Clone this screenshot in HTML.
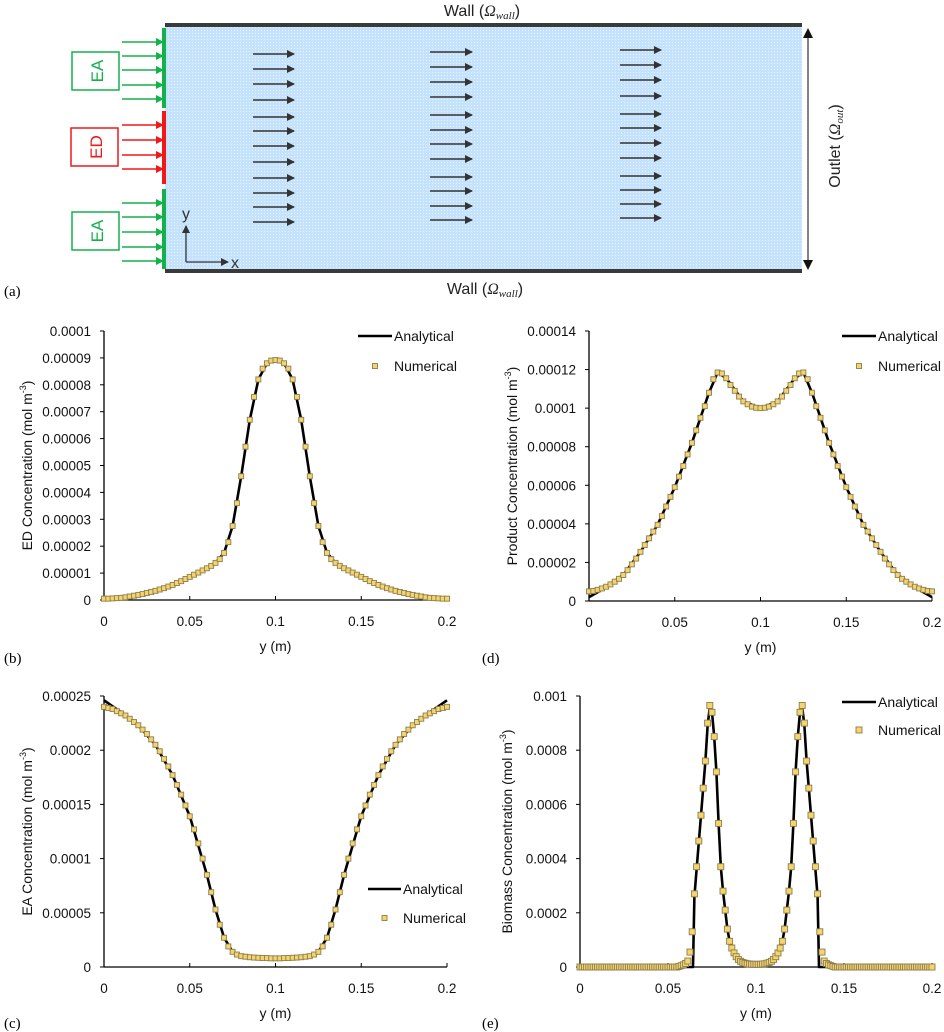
<!DOCTYPE html>
<html><head><meta charset="utf-8"><style>
html,body{margin:0;padding:0;background:#fff;}
svg{display:block;font-family:"Liberation Sans",sans-serif;}
</style></head><body>
<svg id="root" width="944" height="1032" viewBox="0 0 944 1032" xmlns="http://www.w3.org/2000/svg">
<defs>
<pattern id="dots" width="3" height="3" patternUnits="userSpaceOnUse"><rect width="3" height="3" fill="#c4e2fb"/><rect x="0" y="0" width="1" height="1" fill="#e6f3fd"/></pattern>
<marker id="ah" markerWidth="8" markerHeight="8" refX="7" refY="4" orient="auto" markerUnits="userSpaceOnUse"><path d="M0,0 L8,4 L0,8 z" fill="#333"/></marker>
<marker id="ahg" markerWidth="8" markerHeight="8" refX="7" refY="4" orient="auto" markerUnits="userSpaceOnUse"><path d="M0,0 L8,4 L0,8 z" fill="#12b14a"/></marker>
<marker id="ahr" markerWidth="8" markerHeight="8" refX="7" refY="4" orient="auto" markerUnits="userSpaceOnUse"><path d="M0,0 L8,4 L0,8 z" fill="#f01818"/></marker>
</defs>
<g id="schem">
<rect x="165" y="26" width="637" height="245" fill="url(#dots)"/>
<rect x="165" y="23" width="637" height="4" fill="#3a3a3a"/>
<rect x="165" y="269" width="637" height="4" fill="#3a3a3a"/>
<text x="482" y="16" font-size="16" text-anchor="middle" fill="#222">Wall (<tspan font-family="Liberation Serif" font-style="italic">Ω<tspan font-size="11" dy="3">wall</tspan></tspan><tspan dy="-3">)</tspan></text>
<text x="485" y="294" font-size="16" text-anchor="middle" fill="#222">Wall (<tspan font-family="Liberation Serif" font-style="italic">Ω<tspan font-size="11" dy="3">wall</tspan></tspan><tspan dy="-3">)</tspan></text>
<line x1="808" y1="30" x2="808" y2="268" stroke="#333" stroke-width="1.2"/>
<path d="M803,38 L808,28 L813,38 z M803,260 L808,270 L813,260 z" fill="#111"/>
<text transform="translate(840,146) rotate(-90)" font-size="16" text-anchor="middle" fill="#222">Outlet (<tspan font-family="Liberation Serif" font-style="italic">Ω<tspan font-size="11" dy="3">out</tspan></tspan><tspan dy="-3">)</tspan></text>
<rect x="162" y="28" width="4" height="80" fill="#12b14a"/>
<rect x="162" y="111" width="4" height="73" fill="#f01818"/>
<rect x="162" y="189" width="4" height="80" fill="#12b14a"/>
<rect x="72" y="52" width="47" height="38" fill="none" stroke="#12b14a" stroke-width="1.5"/>
<text transform="translate(103,71) rotate(-90)" font-size="17" text-anchor="middle" fill="#12b14a">EA</text>
<rect x="71" y="128" width="47" height="38" fill="none" stroke="#f01818" stroke-width="1.5"/>
<text transform="translate(102,147) rotate(-90)" font-size="17" text-anchor="middle" fill="#f01818">ED</text>
<rect x="72" y="212" width="47" height="38" fill="none" stroke="#12b14a" stroke-width="1.5"/>
<text transform="translate(103,231) rotate(-90)" font-size="17" text-anchor="middle" fill="#12b14a">EA</text>
<g id="inarrows"></g>
<g id="flowarrows"></g>
<line x1="186" y1="262" x2="186" y2="226" stroke="#333" stroke-width="1.3" marker-end="url(#ah)"/>
<line x1="186" y1="262" x2="228" y2="262" stroke="#333" stroke-width="1.3" marker-end="url(#ah)"/>
<text x="182" y="219" font-size="16" fill="#333">y</text>
<text x="231" y="268" font-size="16" fill="#333">x</text>
<text x="4" y="296" font-size="15" font-family="Liberation Serif">(a)</text>
</g>
<g id="charts"></g>
</svg>
<script>
const NS='http://www.w3.org/2000/svg';
function mk(tag,attrs,parent){const e=document.createElementNS(NS,tag);for(const k in attrs)e.setAttribute(k,attrs[k]);parent.appendChild(e);return e;}
const gIn=document.getElementById('inarrows');
[[42,'g'],[56,'g'],[70,'g'],[85,'g'],[99,'g'],[125,'r'],[140,'r'],[155,'r'],[169,'r'],[203,'g'],[217,'g'],[232,'g'],[247,'g'],[261,'g']].forEach(a=>{
 const c=a[1]=='g'?'#12b14a':'#f01818';
 const l=mk('line',{x1:122,y1:a[0],x2:163,y2:a[0],stroke:c,'stroke-width':1.5,'marker-end':a[1]=='g'?'url(#ahg)':'url(#ahr)'},gIn);
 
 
});
const gF=document.getElementById('flowarrows');
[[253,294,[54,69,84,100,117,131,146,162,178,193,207,222]],[430,472,[52,67,82,97,115,130,144,159,177,191,206,220]],[620,661,[50,65,80,96,114,128,143,158,176,190,204,218]]].forEach(col=>{
 col[2].forEach(y=>{
  const l=mk('line',{x1:col[0],y1:y,x2:col[1],y2:y,stroke:'#333','stroke-width':1.6,'marker-end':'url(#ah)'},gF);
  
  
 });
});

const yTicksB=[0,0.00001,0.00002,0.00003,0.00004,0.00005,0.00006,0.00007,0.00008,0.00009,0.0001];
const yTickLabelsB=['0','0.00001','0.00002','0.00003','0.00004','0.00005','0.00006','0.00007','0.00008','0.00009','0.0001'];
const yTicksD=[0,0.00002,0.00004,0.00006,0.00008,0.0001,0.00012,0.00014];
const yTickLabelsD=['0','0.00002','0.00004','0.00006','0.00008','0.0001','0.00012','0.00014'];
const yTicksC=[0,0.00005,0.0001,0.00015,0.0002,0.00025];
const yTickLabelsC=['0','0.00005','0.0001','0.00015','0.0002','0.00025'];
const yTicksE=[0,0.0002,0.0004,0.0006,0.0008,0.001];
const yTickLabelsE=['0','0.0002','0.0004','0.0006','0.0008','0.001'];
const xTicks=[0,0.05,0.1,0.15,0.2];
const xTickLabels=['0','0.05','0.1','0.15','0.2'];

const numB=[0.05,0.05,0.06,0.07,0.08,0.1,0.13,0.16,0.19,0.22,0.26,0.3,0.34,0.39,0.44,0.5,0.56,0.63,0.7,0.78,0.86,0.94,1.02,1.1,1.18,1.27,1.38,1.52,1.75,2.15,2.75,3.6,4.6,5.7,6.7,7.55,8.2,8.6,8.8,8.9,8.92,
8.9,8.8,8.6,8.2,7.55,6.7,5.7,4.6,3.6,2.75,2.15,1.75,1.52,1.38,1.27,1.18,1.1,1.02,0.94,0.86,0.78,0.7,0.63,0.56,0.5,0.44,0.39,0.34,0.3,0.26,0.22,0.19,0.16,0.13,0.1,0.08,0.07,0.06,0.05,0.05];
const anaXB=[0,0.01,0.02,0.03,0.04,0.05,0.06,0.065,0.07,0.075,0.08,0.085,0.09,0.095,0.1,0.105,0.11,0.115,0.12,0.125,0.13,0.135,0.14,0.15,0.16,0.17,0.18,0.19,0.2];
const anaYB=[0.02,0.07,0.19,0.34,0.56,0.86,1.18,1.38,1.75,2.75,4.6,6.7,8.2,8.8,8.92,8.8,8.2,6.7,4.6,2.75,1.75,1.38,1.18,0.86,0.56,0.34,0.19,0.07,0.02];

const numD=[0.5,0.52,0.58,0.65,0.74,0.86,1.0,1.15,1.35,1.6,1.9,2.2,2.55,2.9,3.25,3.6,3.95,4.4,4.9,5.4,5.9,6.45,7.0,7.6,8.2,8.85,9.5,10.1,10.8,11.5,11.85,11.8,11.55,11.2,10.9,10.6,10.35,10.2,10.08,10.02,10.0,
10.02,10.08,10.2,10.35,10.6,10.9,11.2,11.55,11.8,11.85,11.5,10.8,10.1,9.5,8.85,8.2,7.6,7.0,6.45,5.9,5.4,4.9,4.4,3.95,3.6,3.25,2.9,2.55,2.2,1.9,1.6,1.35,1.15,1.0,0.86,0.74,0.65,0.58,0.52,0.5];
const anaXD=[0,0.005,0.01,0.02,0.03,0.04,0.05,0.06,0.07,0.075,0.08,0.09,0.1,0.11,0.12,0.125,0.13,0.14,0.15,0.16,0.17,0.18,0.19,0.195,0.2];
const anaYD=[0.2,0.45,0.74,1.35,2.55,3.95,5.9,8.2,10.8,11.85,11.55,10.35,10.0,10.35,11.55,11.85,10.8,8.2,5.9,3.95,2.55,1.35,0.74,0.45,0.2];

const numC=[24.0,23.9,23.8,23.6,23.4,23.2,22.9,22.6,22.3,21.9,21.5,21.0,20.5,19.9,19.2,18.5,17.7,16.8,15.9,14.9,13.9,12.7,11.4,10.0,8.5,6.9,5.3,3.9,2.7,1.9,1.4,1.15,1.0,0.95,0.9,0.87,0.85,0.83,0.82,0.8,0.8,
0.8,0.82,0.83,0.85,0.87,0.9,0.95,1.0,1.15,1.4,1.9,2.7,3.9,5.3,6.9,8.5,10.0,11.4,12.7,13.9,14.9,15.9,16.8,17.7,18.5,19.2,19.9,20.5,21.0,21.5,21.9,22.3,22.6,22.9,23.2,23.4,23.6,23.8,23.9,24.0];
const anaXC=[0,0.01,0.02,0.03,0.04,0.05,0.06,0.065,0.07,0.075,0.08,0.09,0.1,0.11,0.12,0.125,0.13,0.135,0.14,0.15,0.16,0.17,0.18,0.19,0.2];
const anaYC=[24.6,23.5,22.3,20.5,17.7,13.9,8.5,5.3,2.7,1.4,1.0,0.85,0.8,0.85,1.0,1.4,2.7,5.3,8.5,13.9,17.7,20.5,22.3,23.5,24.6];

const numE=[0,0,0,0,0,0,0,0,0,0,0,0,0,0,0,0,0,0,0,0,0,0,0,0,0,0,0,0,0,0,0,0,0,0,0,0,0,0,0,0,0,0,0,0,0,
0.02,0.05,0.08,0.13,0.22,0.55,1.3,2.7,3.7,4.65,5.6,6.6,7.6,9.0,9.65,9.4,8.5,7.2,5.3,3.7,2.8,2.1,1.4,0.95,0.7,0.52,0.38,0.28,0.21,0.17,0.14,0.12,0.11,0.1,0.1,0.1,
0.1,0.1,0.11,0.12,0.14,0.17,0.21,0.28,0.38,0.52,0.7,0.95,1.4,2.1,2.8,3.7,5.3,7.2,8.5,9.4,9.65,9.0,7.6,6.6,5.6,4.65,3.7,2.7,1.3,0.55,0.22,0.13,0.08,0.05,0.02,
0,0,0,0,0,0,0,0,0,0,0,0,0,0,0,0,0,0,0,0,0,0,0,0,0,0,0,0,0,0,0,0,0,0,0,0,0,0,0,0,0,0,0,0,0];
const anaXE=[0,0.0642,0.065,0.06625,0.0675,0.06875,0.07,0.07125,0.0725,0.07375,0.075,0.07625,0.0775,0.07875,0.08,0.08125,0.0825,0.08375,0.085,0.0875,0.09,0.095,0.1,0.105,0.11,0.1125,0.115,0.11625,0.1175,0.11875,0.12,0.12125,0.1225,0.12375,0.125,0.12625,0.1275,0.12875,0.13,0.13125,0.1325,0.13375,0.135,0.1358,0.2];
const anaYE=[0,0,2.6,3.6,4.6,5.6,6.6,7.6,8.9,9.6,9.4,8.5,7.2,5.3,3.7,2.8,2.1,1.4,0.95,0.52,0.28,0.13,0.1,0.13,0.28,0.52,0.95,1.4,2.1,2.8,3.7,5.3,7.2,8.5,9.4,9.6,8.9,7.6,6.6,5.6,4.6,3.6,2.6,0,0];

const charts=[
 {id:'b',L:104,R:447,B:600,T:331,ymax:0.0001,yt:yTicksB,yl:yTickLabelsB,unit:1e-5,num:numB,step:0.0025,ax:anaXB,ay:anaYB,title:'ED Concentration (mol m',tx:27,ms:5,leg:[358,392,336,366],panel:'(b)',px:4,py:663},
 {id:'d',L:589,R:932,B:601,T:331,ymax:0.00014,yt:yTicksD,yl:yTickLabelsD,unit:1e-5,num:numD,step:0.0025,ax:anaXD,ay:anaYD,title:'Product Concentration (mol m',tx:512,ms:5,leg:[842,876,336,366],panel:'(d)',px:482,py:663},
 {id:'c',L:104,R:447,B:967,T:696,ymax:0.00025,yt:yTicksC,yl:yTickLabelsC,unit:1e-5,num:numC,step:0.0025,ax:anaXC,ay:anaYC,title:'EA Concentration (mol m',tx:27,ms:5,leg:[368,401,889,918],panel:'(c)',px:4,py:1028},
 {id:'e',L:580,R:932,B:967,T:696,ymax:0.001,yt:yTicksE,yl:yTickLabelsE,unit:1e-4,num:numE,step:0.00125,ax:anaXE,ay:anaYE,title:'Biomass Concentration (mol m',tx:507,ms:6,leg:[842,876,702,730],panel:'(e)',px:482,py:1028}
];
const root=document.getElementById('charts');
charts.forEach(c=>{
 const g=mk('g',{},root);
 
 
 const sx=v=>c.L+v/0.2*(c.R-c.L);
 const sy=v=>c.B-v/c.ymax*(c.B-c.T);
 const ya=mk('line',{x1:c.L,y1:c.T,x2:c.L,y2:c.B,stroke:'#000','stroke-width':1.3},g);
 
 
 const xa=mk('line',{x1:c.L,y1:c.B,x2:c.R,y2:c.B,stroke:'#000','stroke-width':1.3},g);
 
 
 c.yt.forEach((v,i)=>{
  mk('line',{x1:c.L-4,y1:sy(v),x2:c.L,y2:sy(v),stroke:'#000','stroke-width':1},g);
  const t=mk('text',{x:c.L-13,y:sy(v)+5,'font-size':13.5,'text-anchor':'end',fill:'#111'},g);
  t.textContent=c.yl[i];
  
  
 });
 xTicks.forEach((v,i)=>{
  mk('line',{x1:sx(v),y1:c.B-4,x2:sx(v),y2:c.B,stroke:'#000','stroke-width':1},g);
  const t=mk('text',{x:sx(v),y:c.B+26,'font-size':13.5,'text-anchor':'middle',fill:'#111'},g);
  t.textContent=xTickLabels[i];
  
  
 });
 const xt=mk('text',{x:(c.L+c.R)/2,y:c.B+51,'font-size':14,'text-anchor':'middle',fill:'#111'},g);
 xt.textContent='y (m)';
 
 
 const yt=mk('text',{transform:`translate(${c.tx+5},${(c.T+c.B)/2}) rotate(-90)`,'font-size':14,'text-anchor':'middle',fill:'#111'},g);
 yt.innerHTML=c.title+'<tspan font-size="9" dy="-6">-3</tspan><tspan dy="6">)</tspan>';
 
 
 const pl=mk('text',{x:c.px,y:c.py,'font-size':15,'font-family':'Liberation Serif'},g);
 pl.textContent=c.panel;
 
 
 let d='';
 c.ax.forEach((x,i)=>{d+=(i?'L':'M')+sx(x).toFixed(1)+','+sy(c.ay[i]*c.unit).toFixed(1);});
 const p=mk('path',{d:d,fill:'none',stroke:'#000','stroke-width':2.6,'stroke-linejoin':'round'},g);
 
 
 c.num.forEach((v,i)=>{
  const h=c.ms/2;
  const r=mk('rect',{x:sx(i*c.step)-h,y:sy(v*c.unit)-h,width:c.ms,height:c.ms,fill:'#f5d46a',stroke:'#8c7d52','stroke-width':0.9},g);
  
  
 });
 const [l1,l2,y1,y2]=c.leg;
 const ll=mk('line',{x1:l1,y1:y1,x2:l2,y2:y1,stroke:'#000','stroke-width':2.6},g);
 
 
 const t1=mk('text',{x:l2+2,y:y1+5,'font-size':14,fill:'#111'},g);
 t1.textContent='Analytical';
 
 
 const mx=(l1+l2)/2;
 const lm=mk('rect',{x:mx-c.ms/2,y:y2-c.ms/2,width:c.ms,height:c.ms,fill:'#f5d46a',stroke:'#8c7d52','stroke-width':0.9},g);
 
 
 const t2=mk('text',{x:l2+2,y:y2+5,'font-size':14,fill:'#111'},g);
 t2.textContent='Numerical';
 
 
});
</script>
</body></html>
